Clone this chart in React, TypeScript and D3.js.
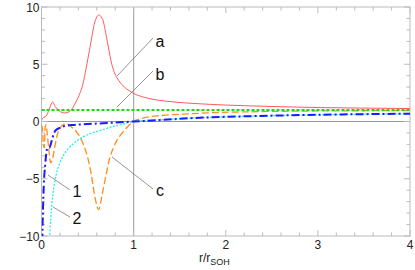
import * as d3 from "d3";
import { useEffect, useRef } from "react";

// curve a (red, solid)
const aX = [0, 0.02, 0.04, 0.06, 0.09, 0.12, 0.15, 0.19, 0.25, 0.3, 0.34, 0.38, 0.45, 0.52, 0.58, 0.62, 0.66, 0.7, 0.73, 0.76, 0.79, 0.82, 0.86, 0.9, 0.95, 1.0, 1.1, 1.2, 1.35, 1.6, 1.82, 2.2, 2.6, 3.0, 3.5, 4.0];
const aY = [0.1, 0.35, 0.4, 0.6, 1.2, 1.7, 1.3, 0.95, 0.75, 0.85, 1.2, 1.8, 3.3, 6.2, 8.7, 9.3, 9.0, 7.6, 6.3, 5.1, 4.3, 3.8, 3.35, 3.0, 2.7, 2.45, 2.15, 1.95, 1.78, 1.6, 1.5, 1.38, 1.29, 1.22, 1.17, 1.13];

// curve b (green, dashed)
const bX = [0, 1, 2, 3, 4];
const bY = [1, 1, 1, 1, 1];

// curve c (orange, long dash)
const cX = [0, 0.01, 0.02, 0.03, 0.04, 0.05, 0.06, 0.08, 0.1, 0.115, 0.14, 0.17, 0.2, 0.24, 0.28, 0.33, 0.38, 0.42, 0.46, 0.5, 0.54, 0.58, 0.62, 0.66, 0.7, 0.74, 0.78, 0.83, 0.87, 0.93, 1.0, 1.1, 1.3, 1.6, 1.82, 2.2, 2.6, 3.0, 3.5, 4.0];
const cY = [-0.3, -0.6, -2.0, -2.3, -0.5, -0.3, -0.9, -2.5, -3.6, -3.4, -2.4, -1.2, -0.6, -0.25, -0.2, -0.5, -0.9, -1.4, -2.1, -3.1, -4.6, -6.6, -7.7, -6.3, -4.7, -3.2, -2.3, -1.5, -1.05, -0.5, 0, 0.3, 0.52, 0.67, 0.76, 0.84, 0.89, 0.92, 0.94, 0.95];

// curve 1 (blue, dash-dot)
const oneX = [0.008, 0.015, 0.025, 0.04, 0.055, 0.065, 0.085, 0.1, 0.12, 0.15, 0.2, 0.25, 0.35, 0.45, 0.6, 0.8, 1.0, 1.3, 1.6, 1.82, 2.2, 2.6, 3.0, 3.5, 4.0];
const oneY = [-10.5, -8, -5.5, -3.8, -2.6, -2.3, -2.3, -2.0, -1.4, -0.8, -0.55, -0.4, -0.3, -0.25, -0.18, -0.09, 0, 0.13, 0.28, 0.36, 0.45, 0.53, 0.59, 0.64, 0.68];

// curve 2 (cyan, dotted)
const twoX = [0.085, 0.1, 0.12, 0.145, 0.17, 0.2, 0.25, 0.3, 0.35, 0.45, 0.55, 0.63, 0.75, 0.85, 1.0, 1.3, 1.6, 2.0, 2.5, 3.0, 3.5, 4.0];
const twoY = [-10.5, -8.5, -6.6, -5.2, -4.3, -3.6, -2.8, -2.3, -1.9, -1.35, -1.0, -0.8, -0.5, -0.3, 0, 0.15, 0.29, 0.4, 0.5, 0.58, 0.64, 0.68];

const xTicks = [0, 1, 2, 3, 4];
const yTicks = [-10, -5, 0, 5, 10];

const series = [
  { xs: aX, ys: aY, color: "#ff5a5a", width: 1, dash: null },
  { xs: cX, ys: cY, color: "#ff8c1a", width: 1.3, dash: "7,3" },
  { xs: twoX, ys: twoY, color: "#22eeee", width: 1.3, dash: "2,1.5" },
  { xs: oneX, ys: oneY, color: "#1a1aff", width: 2, dash: "8,3,2,3" },
  { xs: bX, ys: bY, color: "#11dd11", width: 2, dash: "3,2" },
];

const labels = [
  { t: "a", x: 160, y: 47, from: [117, 76], to: [153, 38] },
  { t: "b", x: 160, y: 80, from: [117, 107], to: [153, 71] },
  { t: "c", x: 160, y: 196, from: [112, 157], to: [153, 189] },
  { t: "1", x: 77, y: 197, from: [48, 175], to: [70, 190] },
  { t: "2", x: 77, y: 224, from: [53, 207], to: [70, 217] },
];

export default function App() {
  const ref = useRef<SVGSVGElement>(null);

  useEffect(() => {
    const width = 415;
    const height = 270;
    const m = { left: 41.5, right: 410, top: 7, bottom: 236 };

    const svg = d3.select(ref.current)
      .attr("width", width)
      .attr("height", height)
      .style("font-family", "Liberation Sans, Arial, sans-serif");
    svg.selectAll("*").remove();

    const x = d3.scaleLinear().domain([0, 4]).range([m.left, m.right]);
    const y = d3.scaleLinear().domain([-10, 10]).range([m.bottom, m.top]);

    svg.append("defs").append("clipPath").attr("id", "plot")
      .append("rect")
      .attr("x", m.left).attr("y", m.top)
      .attr("width", m.right - m.left).attr("height", m.bottom - m.top);

    // reference lines at x = 1 and y = 0
    svg.append("line")
      .attr("x1", x(1)).attr("x2", x(1)).attr("y1", m.top).attr("y2", m.bottom)
      .attr("stroke", "#aaa").attr("stroke-width", 1.2);
    svg.append("line")
      .attr("x1", m.left).attr("x2", m.right).attr("y1", y(0)).attr("y2", y(0))
      .attr("stroke", "#999").attr("stroke-width", 1.2);

    // frame
    svg.append("rect")
      .attr("x", m.left).attr("y", m.top)
      .attr("width", m.right - m.left).attr("height", m.bottom - m.top)
      .attr("fill", "none").attr("stroke", "#bbb").attr("stroke-width", 1);

    const ticks = svg.append("g").attr("stroke", "#bbb").attr("stroke-width", 1);
    d3.range(0, 4.001, 0.2).forEach((v) => {
      const major = Math.abs(v - Math.round(v)) < 1e-6;
      const len = major ? 6 : 3.5;
      ticks.append("line").attr("x1", x(v)).attr("x2", x(v)).attr("y1", m.bottom).attr("y2", m.bottom - len);
      ticks.append("line").attr("x1", x(v)).attr("x2", x(v)).attr("y1", m.top).attr("y2", m.top + len);
    });
    d3.range(-10, 10.001, 1).forEach((v) => {
      const major = v % 5 === 0;
      const len = major ? 6 : 3.5;
      ticks.append("line").attr("y1", y(v)).attr("y2", y(v)).attr("x1", m.left).attr("x2", m.left + len);
      ticks.append("line").attr("y1", y(v)).attr("y2", y(v)).attr("x1", m.right).attr("x2", m.right - len);
    });

    svg.append("g").selectAll("text").data(xTicks).enter().append("text")
      .attr("x", (d) => x(d)).attr("y", m.bottom + 13)
      .attr("text-anchor", "middle").attr("font-size", 12).attr("fill", "#222")
      .text((d) => String(d));
    svg.append("g").selectAll("text").data(yTicks).enter().append("text")
      .attr("x", m.left - 2).attr("y", (d) => y(d) + 4.5)
      .attr("text-anchor", "end").attr("font-size", 12).attr("fill", "#222")
      .text((d) => (d < 0 ? "\u2212" + Math.abs(d) : String(d)));

    const xl = svg.append("text")
      .attr("x", 199).attr("y", 262).attr("font-size", 12).attr("fill", "#222");
    xl.append("tspan").text("r/r");
    xl.append("tspan").attr("font-size", 9).attr("dy", 3).text("SOH");

    const plot = svg.append("g").attr("clip-path", "url(#plot)");
    const line = d3.line<[number, number]>()
      .x((d) => x(d[0])).y((d) => y(d[1]))
      .curve(d3.curveMonotoneX);
    series.forEach((s) => {
      const pts = s.xs.map((v, i) => [v, s.ys[i]] as [number, number]);
      const p = plot.append("path")
        .attr("d", line(pts))
        .attr("fill", "none")
        .attr("stroke", s.color)
        .attr("stroke-width", s.width);
      if (s.dash) p.attr("stroke-dasharray", s.dash);
    });

    const lab = svg.append("g");
    labels.forEach((l) => {
      lab.append("line")
        .attr("x1", l.from[0]).attr("y1", l.from[1]).attr("x2", l.to[0]).attr("y2", l.to[1])
        .attr("stroke", "#777").attr("stroke-width", 0.8);
      lab.append("text").attr("x", l.x).attr("y", l.y)
        .attr("text-anchor", "middle").attr("font-size", 16).attr("fill", "#111")
        .text(l.t);
    });
  }, []);

  return <svg ref={ref} style={{ position: "absolute", left: 0, top: 0 }}></svg>;
}
